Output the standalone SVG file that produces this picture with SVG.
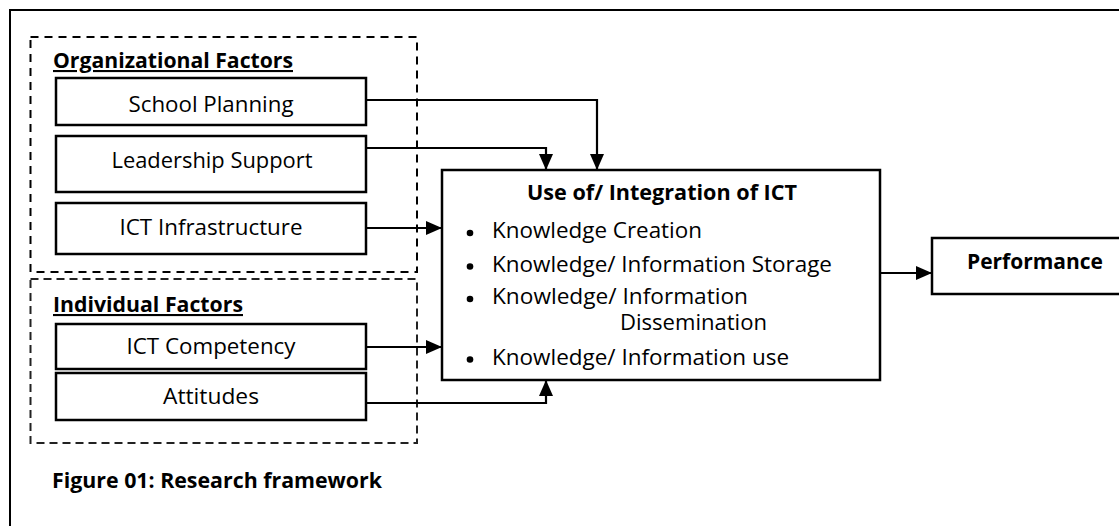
<svg xmlns="http://www.w3.org/2000/svg" width="1119" height="526" viewBox="0 0 1119 526">
<style>
.box{fill:#fff;stroke:#000;stroke-width:2.5}
.dash{fill:none;stroke:#000;stroke-width:2;stroke-dasharray:8,6}
.dash2{fill:none;stroke:#222;stroke-width:2;stroke-dasharray:8,5}
.t{font-family:"Open Sans","Liberation Sans",sans-serif;font-size:21.5px;fill:#000}
.b{font-family:"Open Sans","Liberation Sans",sans-serif;font-size:21px;font-weight:bold;fill:#000}
.c{text-anchor:middle}
.conn{fill:none;stroke:#000;stroke-width:2.2}
</style>
<defs>
<marker id="arr" markerUnits="userSpaceOnUse" markerWidth="16" markerHeight="14" refX="16" refY="7" orient="auto">
<path d="M0,0 L16,7 L0,14 z" fill="#000"/>
</marker>
</defs>
<rect x="10" y="10" width="1130" height="540" fill="#fff" stroke="#000" stroke-width="2"/>
<g id="org-group">
<rect class="dash" x="30.5" y="37" width="386.5" height="235"/>
<text class="b" x="53" y="68" textLength="240" lengthAdjust="spacingAndGlyphs" text-decoration="underline">Organizational Factors</text>
</g>
<g id="ind-group">
<rect class="dash2" x="30.5" y="279" width="386.5" height="164"/>
<text class="b" x="53" y="312" textLength="190" lengthAdjust="spacingAndGlyphs" text-decoration="underline">Individual Factors</text>
</g>
<g id="connectors">
<path class="conn" d="M366,100 H597 V170" marker-end="url(#arr)"/>
<path class="conn" d="M366,148 H546 V170" marker-end="url(#arr)"/>
<path class="conn" d="M366,228 H442" marker-end="url(#arr)"/>
<path class="conn" d="M366,347 H442" marker-end="url(#arr)"/>
<path class="conn" d="M366,403 H546 V380" marker-end="url(#arr)"/>
<path class="conn" d="M880,273 H932" marker-end="url(#arr)"/>
</g>
<g id="school-planning">
<rect class="box" x="56" y="78" width="310" height="47"/>
<text class="t c" x="211" y="112" textLength="165" lengthAdjust="spacingAndGlyphs">School Planning</text>
</g>
<g id="leadership-support">
<rect class="box" x="56" y="136" width="310" height="56"/>
<text class="t c" x="212" y="168" textLength="201" lengthAdjust="spacingAndGlyphs">Leadership Support</text>
</g>
<g id="ict-infrastructure">
<rect class="box" x="56" y="203" width="310" height="51"/>
<text class="t c" x="211" y="235" textLength="183" lengthAdjust="spacingAndGlyphs">ICT Infrastructure</text>
</g>
<g id="ict-competency">
<rect class="box" x="56" y="324" width="310" height="45"/>
<text class="t c" x="211" y="354" textLength="169" lengthAdjust="spacingAndGlyphs">ICT Competency</text>
</g>
<g id="attitudes">
<rect class="box" x="56" y="373" width="310" height="47"/>
<text class="t c" x="211" y="404" textLength="96" lengthAdjust="spacingAndGlyphs">Attitudes</text>
</g>
<g id="use-of-ict">
<rect class="box" x="442" y="170" width="438" height="210"/>
<text class="b" x="527" y="200" textLength="270" lengthAdjust="spacingAndGlyphs">Use of/ Integration of ICT</text>
<circle cx="470" cy="233" r="3.3"/>
<text class="t" x="492" y="238" textLength="210" lengthAdjust="spacingAndGlyphs">Knowledge Creation</text>
<circle cx="470" cy="266.5" r="3.3"/>
<text class="t" x="492" y="272" textLength="340" lengthAdjust="spacingAndGlyphs">Knowledge/ Information Storage</text>
<circle cx="470" cy="299" r="3.3"/>
<text class="t" x="492" y="304" textLength="256" lengthAdjust="spacingAndGlyphs">Knowledge/ Information</text>
<text class="t" x="620" y="330" textLength="147" lengthAdjust="spacingAndGlyphs">Dissemination</text>
<circle cx="470" cy="359.5" r="3.3"/>
<text class="t" x="492" y="365" textLength="297" lengthAdjust="spacingAndGlyphs">Knowledge/ Information use</text>
</g>
<g id="performance">
<rect class="box" x="932" y="238" width="210" height="56"/>
<text class="b" x="967" y="269" textLength="136" lengthAdjust="spacingAndGlyphs">Performance</text>
</g>
<g id="caption">
<text class="b" x="52" y="488" textLength="330" lengthAdjust="spacingAndGlyphs">Figure 01: Research framework</text>
</g>
</svg>
